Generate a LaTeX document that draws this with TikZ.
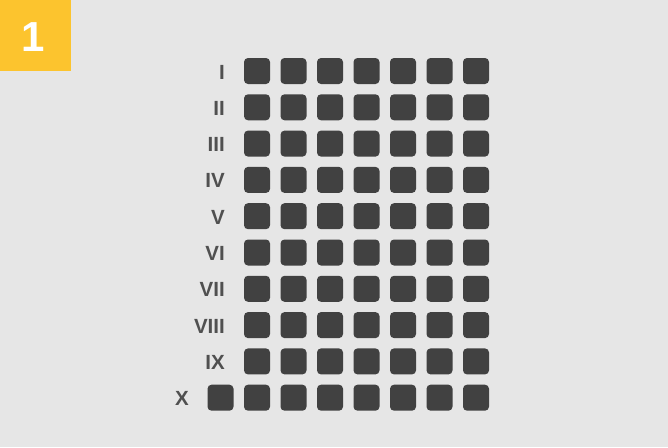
\documentclass[tikz,border=0pt]{standalone}
\usepackage{fontspec}
\setmainfont{Liberation Sans}
\definecolor{bg}{HTML}{E6E6E6}
\definecolor{ylw}{HTML}{FCC42E}
\definecolor{sq}{HTML}{414141}
\definecolor{lbl}{HTML}{505050}
\begin{document}
\begin{tikzpicture}[x=1pt,y=-1pt,
  cell/.style={fill=sq,rounded corners=4pt,minimum size=26pt,inner sep=0pt,outer sep=0pt},
  rlabel/.style={anchor=east,text=lbl,font=\bfseries\fontsize{20.5}{20.5}\selectfont,inner sep=0pt},
  badge/.style={fill=ylw,minimum size=71pt,inner sep=0pt,anchor=north west},
  badgetext/.style={text=white,font=\bfseries\fontsize{42}{42}\selectfont,inner sep=0pt}]
\fill[bg] (0,0) rectangle (668,447);
\useasboundingbox (0,0) rectangle (668,447);
\node[badge] (badge) at (0,0) {};
\node[badgetext] (one) at (33.5,37.5) {1};
\foreach \r/\t in {1/I,2/II,3/III,4/IV,5/V,6/VI,7/VII,8/VIII,9/IX}{
  \pgfmathsetmacro{\yy}{71+36.3*(\r-1)}
  \node[rlabel] (l-\r) at (225,\yy+1) {\t};
  \foreach \c in {1,...,7}{
    \pgfmathsetmacro{\xx}{257+36.5*(\c-1)}
    \node[cell] (s-\r-\c) at (\xx,\yy) {};
  }
}
\pgfmathsetmacro{\yy}{71+36.3*9}
\node[rlabel] (l-10) at (189,\yy+1) {X};
\foreach \c in {0,...,7}{
  \pgfmathsetmacro{\xx}{257+36.5*(\c-1)}
  \node[cell] (s-10-\c) at (\xx,\yy) {};
}
\end{tikzpicture}
\end{document}
